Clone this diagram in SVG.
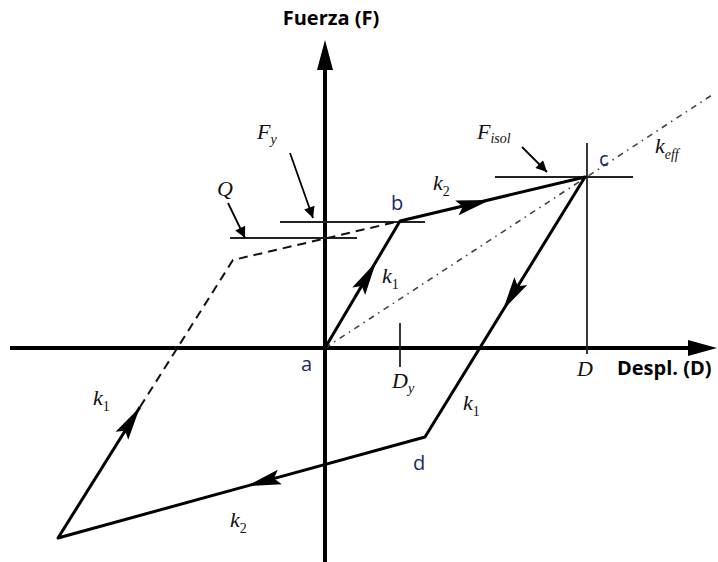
<svg xmlns="http://www.w3.org/2000/svg" width="718" height="562" viewBox="0 0 718 562">
<style>
.axis{stroke:#000;stroke-width:4;fill:none}
.ref{stroke:#222;stroke-width:1.8;fill:none}
.curve{stroke:#000;stroke-width:3;fill:none;stroke-linejoin:round}
.dash{stroke:#111;stroke-width:2;fill:none;stroke-dasharray:9 6}
.dd{stroke:#444;stroke-width:1.6;fill:none;stroke-dasharray:6 5 1.5 5}
.call{stroke:#000;stroke-width:1.8;fill:none}
.lab{font-family:"Liberation Serif",serif;font-style:italic;font-size:22px;fill:#111}
.sub{font-size:14px}
.num{font-style:normal}
.pt{font-family:"Open Sans","Liberation Sans",sans-serif;font-size:20px;fill:#1a2a6c}
.ax{font-family:"Open Sans","Liberation Sans",sans-serif;font-weight:bold;font-size:20px;fill:#000}
</style>
<defs>
<path id="ah" d="M0,0 L-34,-7.5 L-28,0 L-34,7.5 Z" fill="#000"/>
<marker id="cm" viewBox="0 0 10 10" refX="10" refY="5" markerWidth="16" markerHeight="11" markerUnits="userSpaceOnUse" orient="auto">
<path d="M0,0 L10,5 L0,10 Z" fill="#000"/>
</marker>
</defs>
<g id="axes">
<line class="axis" x1="325" y1="562" x2="325" y2="64"/>
<polygon points="325,40 317,70 333,70" fill="#000"/>
<line class="axis" x1="10" y1="348" x2="692" y2="348"/>
<polygon points="717,348 688,340 688,356" fill="#000"/>
<text class="ax" x="331" y="25" text-anchor="middle">Fuerza (F)</text>
<text class="ax" x="617" y="375">Despl. (D)</text>
</g>
<g id="reference-lines">
<line class="ref" x1="230" y1="238" x2="357" y2="238"/>
<line class="ref" x1="280" y1="222" x2="425" y2="222"/>
<line class="ref" x1="495" y1="177" x2="633" y2="177"/>
<line class="ref" x1="587" y1="143" x2="587" y2="354"/>
<line class="ref" x1="400" y1="323" x2="400" y2="367"/>
<line class="dd" x1="325" y1="348" x2="712" y2="95"/>
</g>
<g id="connectors">
<path class="curve" d="M325,348 L400,221 L585,177 L425,437 L58,538 L140,407"/>
<path class="dash" d="M140,407 L233,260 L400,221"/>
<use href="#ah" transform="translate(376,262) rotate(-59.4)"/>
<use href="#ah" transform="translate(490,200) rotate(-13.4)"/>
<use href="#ah" transform="translate(503,310) rotate(121.6)"/>
<use href="#ah" transform="translate(247,486) rotate(164.6)"/>
<use href="#ah" transform="translate(140,407) rotate(-57.8)"/>
<line class="call" x1="290" y1="153" x2="313" y2="218" marker-end="url(#cm)"/>
<line class="call" x1="228" y1="203" x2="245" y2="238" marker-end="url(#cm)"/>
<line class="call" x1="522" y1="147" x2="547" y2="172" marker-end="url(#cm)"/>
</g>
<g id="node-a"><text class="pt" x="301" y="371">a</text></g>
<g id="node-b"><text class="pt" x="391" y="210">b</text></g>
<g id="node-c"><text class="pt" x="599" y="166">c</text></g>
<g id="node-d"><text class="pt" x="413" y="470">d</text></g>
<g id="labels">
<text class="lab" x="257" y="139">F<tspan class="sub" dy="5">y</tspan></text>
<text class="lab" x="217" y="196">Q</text>
<text class="lab" x="477" y="139">F<tspan class="sub" dy="4">isol</tspan></text>
<text class="lab" x="655" y="153">k<tspan class="sub" dy="6">eff</tspan></text>
<text class="lab" x="433" y="190">k<tspan class="sub num" dy="6">2</tspan></text>
<text class="lab" x="382" y="283">k<tspan class="sub num" dy="6">1</tspan></text>
<text class="lab" x="463" y="410">k<tspan class="sub num" dy="6">1</tspan></text>
<text class="lab" x="93" y="405">k<tspan class="sub num" dy="6">1</tspan></text>
<text class="lab" x="230" y="527">k<tspan class="sub num" dy="6">2</tspan></text>
<text class="lab" x="577" y="376">D</text>
<text class="lab" x="392" y="388">D<tspan class="sub" dy="5">y</tspan></text>
</g>
</svg>
